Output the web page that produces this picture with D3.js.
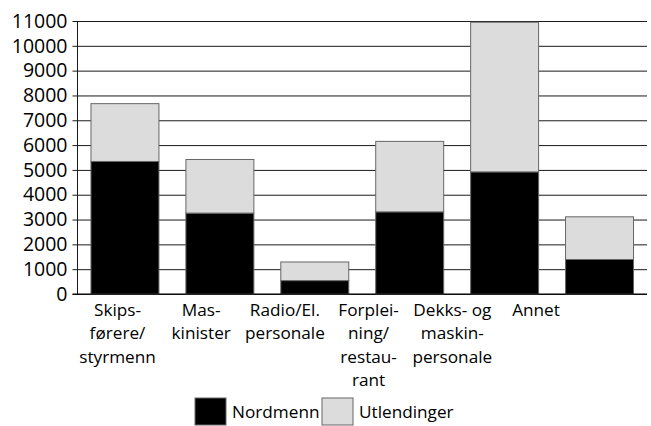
<!DOCTYPE html>
<html>
<head>
<meta charset="utf-8">
<script src="https://cdn.jsdelivr.net/npm/d3@7"></script>
<style>
  body { margin: 0; background: #fff; }
  text { font-family: "Open Sans", sans-serif; fill: #000; }
</style>
</head>
<body>
<div id="chart"></div>
<script>
// Categories (label lines) and values
const categories = ["Skipsførere", "Maskinister", "Radio", "Forpleining", "Dekks", "Annet"];
const labelLines = [
    ["Skips-", "førere/", "styrmenn"],
    ["Mas-", "kinister"],
    ["Radio/El.", "personale"],
    ["Forplei-", "ning/", "restau-", "rant"],
    ["Dekks- og", "maskin-", "personale"],
    ["Annet"]
];
const nordmenn = [5340, 3260, 540, 3310, 4920, 1390];
const utlendinger = [2330, 2160, 750, 2840, 6030, 1720];
const seriesNames = ["Nordmenn", "Utlendinger"];
const seriesColors = ["#000000", "#dcdcdc"];
const yTicks = [0, 1000, 2000, 3000, 4000, 5000, 6000, 7000, 8000, 9000, 10000, 11000];

const width = 651, height = 426;
const margin = { top: 21, right: 4, bottom: 132, left: 77.5 };
const innerW = width - margin.left - margin.right;
const innerH = height - margin.top - margin.bottom;

const svg = d3.select("#chart")
    .append("svg")
    .attr("width", width)
    .attr("height", height);

const g = svg.append("g")
    .attr("transform", `translate(${margin.left},${margin.top})`);

const x = d3.scaleBand()
    .domain(categories)
    .range([0, innerW])
    .paddingInner(0.284)
    .paddingOuter(0.142);

const y = d3.scaleLinear()
    .domain([0, 11000])
    .range([innerH, 0]);

// labels sit on their own, slightly tighter spacing
const xLabel = d3.scalePoint()
    .domain(categories)
    .range([117.5 - margin.left, 536 - margin.left]);

// Grid + y axis
const yAxis = g.append("g")
    .call(d3.axisLeft(y).tickValues(yTicks).tickSize(-innerW).tickFormat(d3.format("d")).tickPadding(10));
yAxis.select(".domain").remove();
yAxis.selectAll(".tick line")
    .attr("x1", -5)
    .attr("stroke", "#1a1a1a")
    .attr("stroke-width", 1);
yAxis.selectAll(".tick text")
    .attr("font-size", 19.5)
    .attr("font-family", "'Open Sans', sans-serif")
    .attr("fill", "#000");

g.append("line")
    .attr("x1", 0).attr("x2", 0)
    .attr("y1", 0).attr("y2", innerH)
    .attr("stroke", "#1a1a1a");

// Stacked bars
const rows = categories.map((c, i) => ({ cat: c, Nordmenn: nordmenn[i], Utlendinger: utlendinger[i] }));
const stack = d3.stack().keys(seriesNames)(rows);

g.append("g")
    .selectAll("g")
    .data(stack)
    .join("g")
    .attr("fill", (d, i) => seriesColors[i])
    .selectAll("rect")
    .data(d => d)
    .join("rect")
    .attr("x", d => x(d.data.cat))
    .attr("y", d => y(d[1]))
    .attr("width", x.bandwidth())
    .attr("height", d => y(d[0]) - y(d[1]))
    .attr("stroke", "#666")
    .attr("stroke-width", 1);

// baseline over bars
g.append("line")
    .attr("x1", -5).attr("x2", innerW)
    .attr("y1", innerH).attr("y2", innerH)
    .attr("stroke", "#000");

// Category labels
const lineH = 23.3;
g.append("g")
    .selectAll("text")
    .data(categories)
    .join("text")
    .attr("text-anchor", "middle")
    .attr("font-size", 17.2)
    .attr("transform", d => `translate(${xLabel(d)},${innerH + 22})`)
    .selectAll("tspan")
    .data((d, i) => labelLines[i])
    .join("tspan")
    .attr("x", 0)
    .attr("y", (d, i) => i * lineH)
    .text(d => d);

// Legend
const legend = svg.append("g").attr("transform", "translate(195,398)");
const legendX = [0, 127];
seriesNames.forEach((name, i) => {
    const lg = legend.append("g").attr("transform", `translate(${legendX[i]},0)`);
    lg.append("rect")
        .attr("width", 31)
        .attr("height", 27)
        .attr("fill", seriesColors[i])
        .attr("stroke", "#666");
    lg.append("text")
        .attr("x", 37)
        .attr("y", 20)
        .attr("font-size", 17.2)
        .text(name);
});
</script>
</body>
</html>
